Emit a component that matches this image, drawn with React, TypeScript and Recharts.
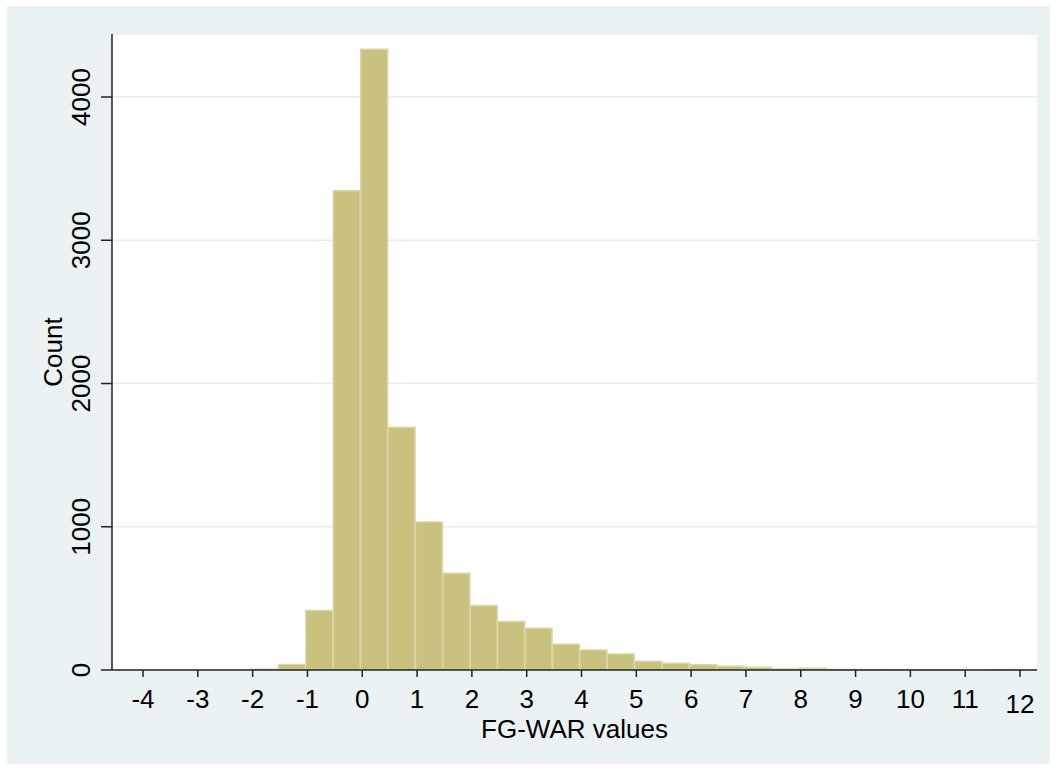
import { Bar, CartesianGrid, ComposedChart, Label, XAxis, YAxis } from "recharts";

// histogram of FG-WAR, bin width 0.5
const binLow = [
  -2.03, -1.53, -1.03, -0.53, -0.03, 0.47, 0.97, 1.47, 1.97, 2.47, 2.97, 3.47, 3.97, 4.47,
  4.97, 5.47, 5.97, 6.47, 6.97, 7.47, 7.97, 8.47, 8.97, 9.47, 9.97, 10.47, 10.97, 11.47,
];
const counts = [
  5, 38, 415, 3345, 4333, 1694, 1033, 675, 450, 338, 291, 179, 140, 112,
  61, 47, 37, 26, 19, 7, 12, 4, 3, 3, 2, 2, 0, 3,
];
const xTicks = [-4, -3, -2, -1, 0, 1, 2, 3, 4, 5, 6, 7, 8, 9, 10, 11, 12];
const yTicks = [0, 1000, 2000, 3000, 4000];

const binWidth = 0.5;
const data = binLow.map((lo, i) => ({ mid: lo + binWidth / 2, count: counts[i] }));

const FONT = "'Liberation Sans', Arial, Helvetica, sans-serif";

const XTick = ({ x, y, payload }: any) => (
  <text
    x={x}
    y={y + 29 + (payload.value === 12 ? 5 : 0)}
    textAnchor="middle"
    fontSize={26}
    fontFamily={FONT}
    fill="#000"
  >
    {payload.value}
  </text>
);

const YTick = ({ x, y, payload }: any) => (
  <text
    x={x}
    y={y}
    transform={`rotate(-90, ${x}, ${y})`}
    textAnchor="middle"
    fontSize={26}
    fontFamily={FONT}
    fill="#000"
  >
    {payload.value}
  </text>
);

export default function App() {
  return (
    <div style={{ position: "fixed", left: 0, top: 0, width: 1057, height: 770, background: "#fff" }}>
      <div
        style={{ position: "absolute", left: 7, top: 6, width: 1043, height: 758, background: "#eaf2f3" }}
      />
      <div style={{ position: "absolute", left: 0, top: 0 }}>
        <ComposedChart
          width={1057}
          height={770}
          data={data}
          margin={{ top: 34, right: 20, bottom: 40, left: 52 }}
          barCategoryGap={0}
          barGap={0}
        >
          <CartesianGrid fill="#fff" vertical={false} stroke="#e3ecef" strokeWidth={1.5} />
          <XAxis
            dataKey="mid"
            type="number"
            domain={[-4.566, 12.31]}
            ticks={xTicks}
            interval={0}
            allowDataOverflow
            height={60}
            tickSize={7}
            tickMargin={2}
            tick={<XTick />}
            stroke="#222"
            strokeWidth={1.5}
            tickLine={{ stroke: "#222", strokeWidth: 1.5 }}
          >
            <Label
              content={({ viewBox }: any) => (
                <text
                  x={viewBox.x + viewBox.width / 2}
                  y={viewBox.y + 68}
                  textAnchor="middle"
                  fontSize={26}
                  fontFamily={FONT}
                  fill="#000"
                >
                  FG-WAR values
                </text>
              )}
            />
          </XAxis>
          <YAxis
            type="number"
            domain={[0, 4440]}
            ticks={yTicks}
            interval={0}
            allowDataOverflow
            width={60}
            tickSize={11}
            tickMargin={11}
            tick={<YTick />}
            stroke="#222"
            strokeWidth={1.5}
            tickLine={{ stroke: "#222", strokeWidth: 1.5 }}
          >
            <Label
              content={({ viewBox }: any) => {
                const cx = viewBox.x + 10;
                const cy = viewBox.y + viewBox.height / 2;
                return (
                  <text
                    x={cx}
                    y={cy}
                    transform={`rotate(-90, ${cx}, ${cy})`}
                    textAnchor="middle"
                    fontSize={26}
                    fontFamily={FONT}
                    fill="#000"
                  >
                    Count
                  </text>
                );
              }}
            />
          </YAxis>
          <Bar
            dataKey="count"
            fill="#c9c27f"
            stroke="#dbd6a6"
            strokeWidth={1.5}
            isAnimationActive={false}
          />
        </ComposedChart>
      </div>
    </div>
  );
}
